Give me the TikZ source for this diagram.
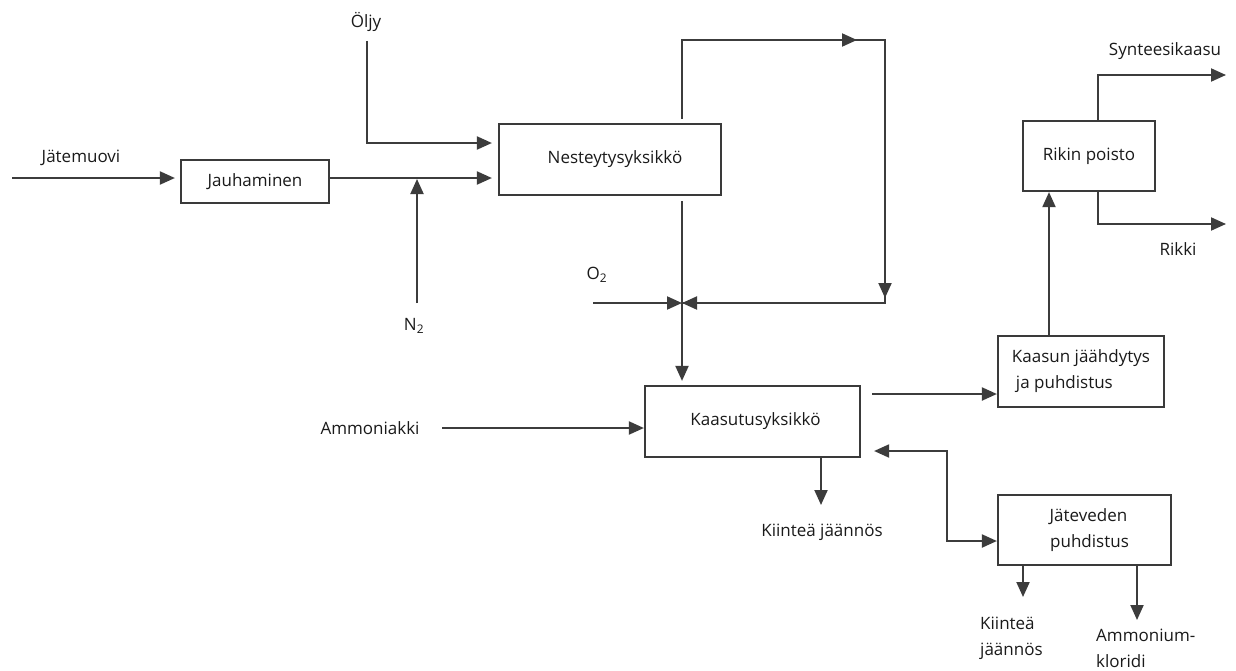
\documentclass[tikz,border=0pt]{standalone}
\usepackage{fontspec}
\setmainfont{Open Sans}
\usetikzlibrary{arrows.meta,calc}
\definecolor{linec}{HTML}{3C3C3C}
\definecolor{boxc}{HTML}{3A3A3A}
\definecolor{txt}{HTML}{1A1A1A}
\tikzset{
  box/.style={draw=boxc, line width=2.2pt, inner sep=0pt, align=center, text=txt},
  lab/.style={inner sep=0pt, text=txt},
  flow/.style={draw=linec, line width=2pt},
  arr/.style={flow, -{Triangle[length=15pt,width=13pt]}},
  barr/.style={flow, {Triangle[length=15pt,width=13pt]}-{Triangle[length=15pt,width=13pt]}},
}
\begin{document}
\begin{tikzpicture}[x=1pt,y=-1pt,font=\fontsize{17}{26}\selectfont]
\useasboundingbox (0,0) rectangle (1236,670);
\fill[white] (0,0) rectangle (1236,670);

% boxes
\node[box, minimum width=148pt, minimum height=43pt] (jau) at (255,181.5) {Jauhaminen};
\node[box, minimum width=222pt, minimum height=71pt] (nes) at (610,159.5) {\hspace*{10pt}Nesteytysyksikkö};
\node[box, minimum width=215pt, minimum height=71pt] (kaa) at (752.5,421.5) {\hspace*{6pt}Kaasutusyksikkö};
\node[box, minimum width=166pt, minimum height=71pt, align=left] (jah) at (1081,371.5) {Kaasun jäähdytys\\\hspace*{4pt}ja puhdistus};
\node[box, minimum width=132pt, minimum height=70pt] (rik) at (1089,156) {Rikin poisto};
\node[box, minimum width=173pt, minimum height=70pt] (jat) at (1084.5,530) {\hspace*{8pt}Jäteveden\\\hspace*{10pt}puhdistus};

% labels
\node[lab] (jtm) at (81,158) {Jätemuovi};
\node[lab] (olj) at (366,22) {Öljy};
\node[lab] (n2) at (414,326) {N\textsubscript{2}};
\node[lab] (o2) at (597,275) {O\textsubscript{2}};
\node[lab] (amm) at (370,428) {Ammoniakki};
\node[lab] (kj1) at (822,532) {Kiinteä jäännös};
\node[lab] (syn) at (1165,51) {Synteesikaasu};
\node[lab] (rki) at (1178,249) {Rikki};
\node[lab, anchor=north west, align=left] (kj2) at (980,617) {Kiinteä\\jäännös};
\node[lab, anchor=north west, align=left] (amk) at (1096,629) {Ammonium-\\kloridi};

% free ends / junctions
\coordinate (feed) at (12,178);
\coordinate (oilc) at (367,143);
\coordinate (n2c) at (417,303);
\coordinate (mix) at (682,303);
\coordinate (top1) at (682,40);
\coordinate (toparr) at (857,40);
\coordinate (topr) at (885,40);
\coordinate (rdown) at (885,298);
\coordinate (rjoin) at (885,303);
\coordinate (o2c) at (593,303);
\coordinate (ammc) at (442,428);
\coordinate (kjarr) at (821,505);
\coordinate (gas) at (872,394);
\coordinate (ret1) at (947,451);
\coordinate (ret2) at (947,541);
\coordinate (sx) at (1098,75);
\coordinate (synend) at (1226,75);
\coordinate (rkend) at (1226,224);
\coordinate (upx) at (1049,0);
\coordinate (kj2arr) at (1023,597);
\coordinate (amarr) at (1137,620);

% feed line
\draw[arr, shorten >=5pt] (feed) -- (jau.west |- feed);
\draw[arr, shorten >=6pt] (jau.east |- feed) -- (nes.west |- feed);
\draw[arr, shorten >=1pt] (n2c) -- (n2c |- feed);
\draw[arr, shorten >=6pt] (olj.south -| oilc) ++(0,9) |- (nes.west |- oilc);

% recycle loop
\draw[flow] (nes.north -| mix) ++(0,-4) -- (top1) -- (topr) -- (rjoin) -- (mix);
\draw[arr] (top1) -- (toparr);
\draw[arr] (topr) -- (rdown);
\draw[arr] (rjoin) -- (mix);
\draw[arr] (o2c) -- (mix);
\draw[arr, shorten >=4pt] (nes.south -| mix) ++(0,5) -- (kaa.north -| mix);

% gasification
\draw[arr] (ammc) -- (kaa.west |- ammc);
\draw[arr] (kaa.south -| kjarr) -- (kjarr);
\draw[arr] (gas) -- (jah.west |- gas);
\draw[barr] (kaa.east |- ret1) ++(13,0) -- (ret1) -- (ret2) -- (jat.west |- ret2);

% gas cleaning / sulfur removal
\draw[arr] (jah.north -| upx) -- (rik.south -| upx);
\draw[arr] (rik.north -| sx) |- (synend);
\draw[arr] (rik.south -| sx) |- (rkend);

% waste water
\draw[arr] (jat.south -| kj2arr) -- (kj2arr);
\draw[arr] (jat.south -| amarr) -- (amarr);
\end{tikzpicture}
\end{document}
